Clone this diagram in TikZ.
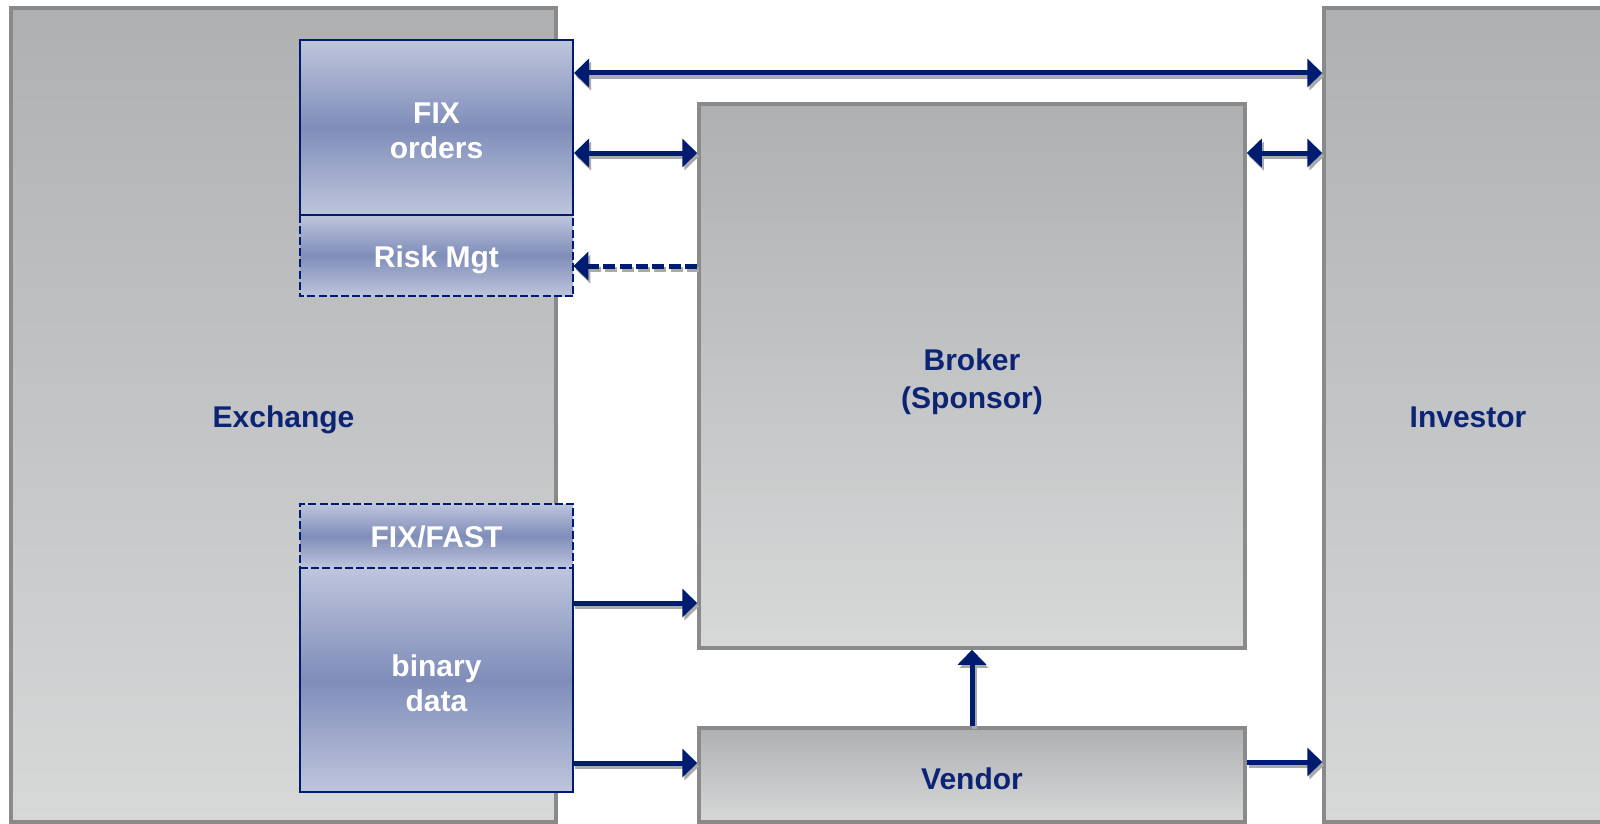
\documentclass[tikz,border=0pt]{standalone}
\usepackage{fontspec}
\setmainfont{Liberation Sans}
\usetikzlibrary{arrows.meta}
\definecolor{navy}{RGB}{0,28,112}
\definecolor{txtnavy}{RGB}{12,36,116}
\definecolor{gtop}{RGB}{175,176,178}
\definecolor{gbot}{RGB}{215,216,216}
\definecolor{gline}{RGB}{138,138,138}
\definecolor{btop}{RGB}{190,197,220}
\definecolor{bmid}{RGB}{127,141,185}
\definecolor{shadowc}{RGB}{170,170,170}
\tikzset{
  graybox/.style={draw=gline, line width=1.75pt, top color=gtop, bottom color=gbot, inner sep=0pt},
  bluebox/.style={top color=btop, bottom color=btop, middle color=bmid, inner sep=0pt},
  darklbl/.style={font=\bfseries\fontsize{15}{19}\selectfont, text=txtnavy, align=center, inner sep=0pt},
  whitelbl/.style={font=\bfseries\fontsize{15}{17.5}\selectfont, text=white, align=center, inner sep=0pt},
  blueline/.style={draw=navy, line width=1pt},
  bluedash/.style={draw=navy, line width=1pt, dash pattern=on 4pt off 1.6pt},
  tip/.style={-{Triangle[length=7.5pt,width=14pt]}},
  tips/.style={{Triangle[length=7.5pt,width=14pt]}-{Triangle[length=7.5pt,width=14pt]}},
  flow/.style={line width=2.5pt},
}
\newcommand\allflows[1]{%
  \draw[flow,#1,tips] (fix.east |- y1) -- (inv.west |- y1);
  \draw[flow,#1,tips] (fix.east |- y2) -- (brk.west |- y2);
  \draw[flow,#1,tips] (brk.east |- y2) -- (inv.west |- y2);
  \draw[flow,#1,tip,dash pattern=on 6pt off 2.2pt] (brk.west |- y3) -- (risk.east |- y3);
  \draw[flow,#1,tip] (bin.east |- y4) -- (brk.west |- y4);
  \draw[flow,#1,tip] (bin.east |- y5) -- (ven.west |- y5);
  \draw[flow,#1,tip] (ven.north) -- (brk.south);
  \draw[flow,#1,tip] (ven.east |- y6) -- (inv.west |- y6);
}
\begin{document}
\begin{tikzpicture}[x=0.5pt,y=-0.5pt]
\useasboundingbox (0,0) rectangle (1600,824);
\clip (0,0) rectangle (1600,824);
% big boxes
\node[graybox, minimum width=272.5pt, minimum height=407pt] (ex) at (283.5,415) {};
\node[graybox, minimum width=144pt, minimum height=407pt] (inv) at (1468,415) {};
\node[graybox, minimum width=273pt, minimum height=272pt] (brk) at (972,376) {};
\node[graybox, minimum width=273pt, minimum height=47pt] (ven) at (972,775) {};
% inner boxes
\node[bluebox, minimum width=136.5pt, minimum height=40.5pt] (risk) at (436.5,255.5) {};
\draw[bluedash] (risk.north west) -- (risk.south west) -- (risk.south east) -- (risk.north east);
\node[bluebox, blueline, minimum width=136.5pt, minimum height=87.5pt] (fix) at (436.5,127.5) {};
\node[bluebox, minimum width=136.5pt, minimum height=112pt] (bin) at (436.5,680) {};
\draw[blueline] (bin.north west) -- (bin.south west) -- (bin.south east) -- (bin.north east);
\node[bluebox, bluedash, minimum width=136.5pt, minimum height=32pt] (fast) at (436.5,536) {};
% labels
\node[darklbl] (exT) at ([yshift=-2.5pt]ex.center) {Exchange};
\node[darklbl] (invT) at ([yshift=-1.2pt]inv.center) {Investor};
\node[darklbl] (brkT) at ([yshift=-3pt]brk.center) {Broker\\(Sponsor)};
\node[darklbl] (venT) at ([yshift=-1.8pt]ven.center) {Vendor};
\node[whitelbl] (fixT) at ([yshift=-1.5pt]fix.center) {FIX\\orders};
\node[whitelbl] (riskT) at ([yshift=-2pt]risk.center) {Risk Mgt};
\node[whitelbl] (fastT) at ([yshift=-0.3pt]fast.center) {FIX/FAST};
\node[whitelbl] (binT) at ([yshift=-1.5pt]bin.center) {binary\\data};
% flow levels
\coordinate (y1) at (0,73);
\coordinate (y2) at (0,153);
\coordinate (y3) at (0,266);
\coordinate (y4) at (0,603);
\coordinate (y5) at (0,763);
\coordinate (y6) at (0,762);
% shadows then arrows
\begin{scope}[transform canvas={shift={(1pt,-1.6pt)}}]
  \allflows{draw=shadowc}
\end{scope}
\allflows{draw=navy}
\end{tikzpicture}
\end{document}
